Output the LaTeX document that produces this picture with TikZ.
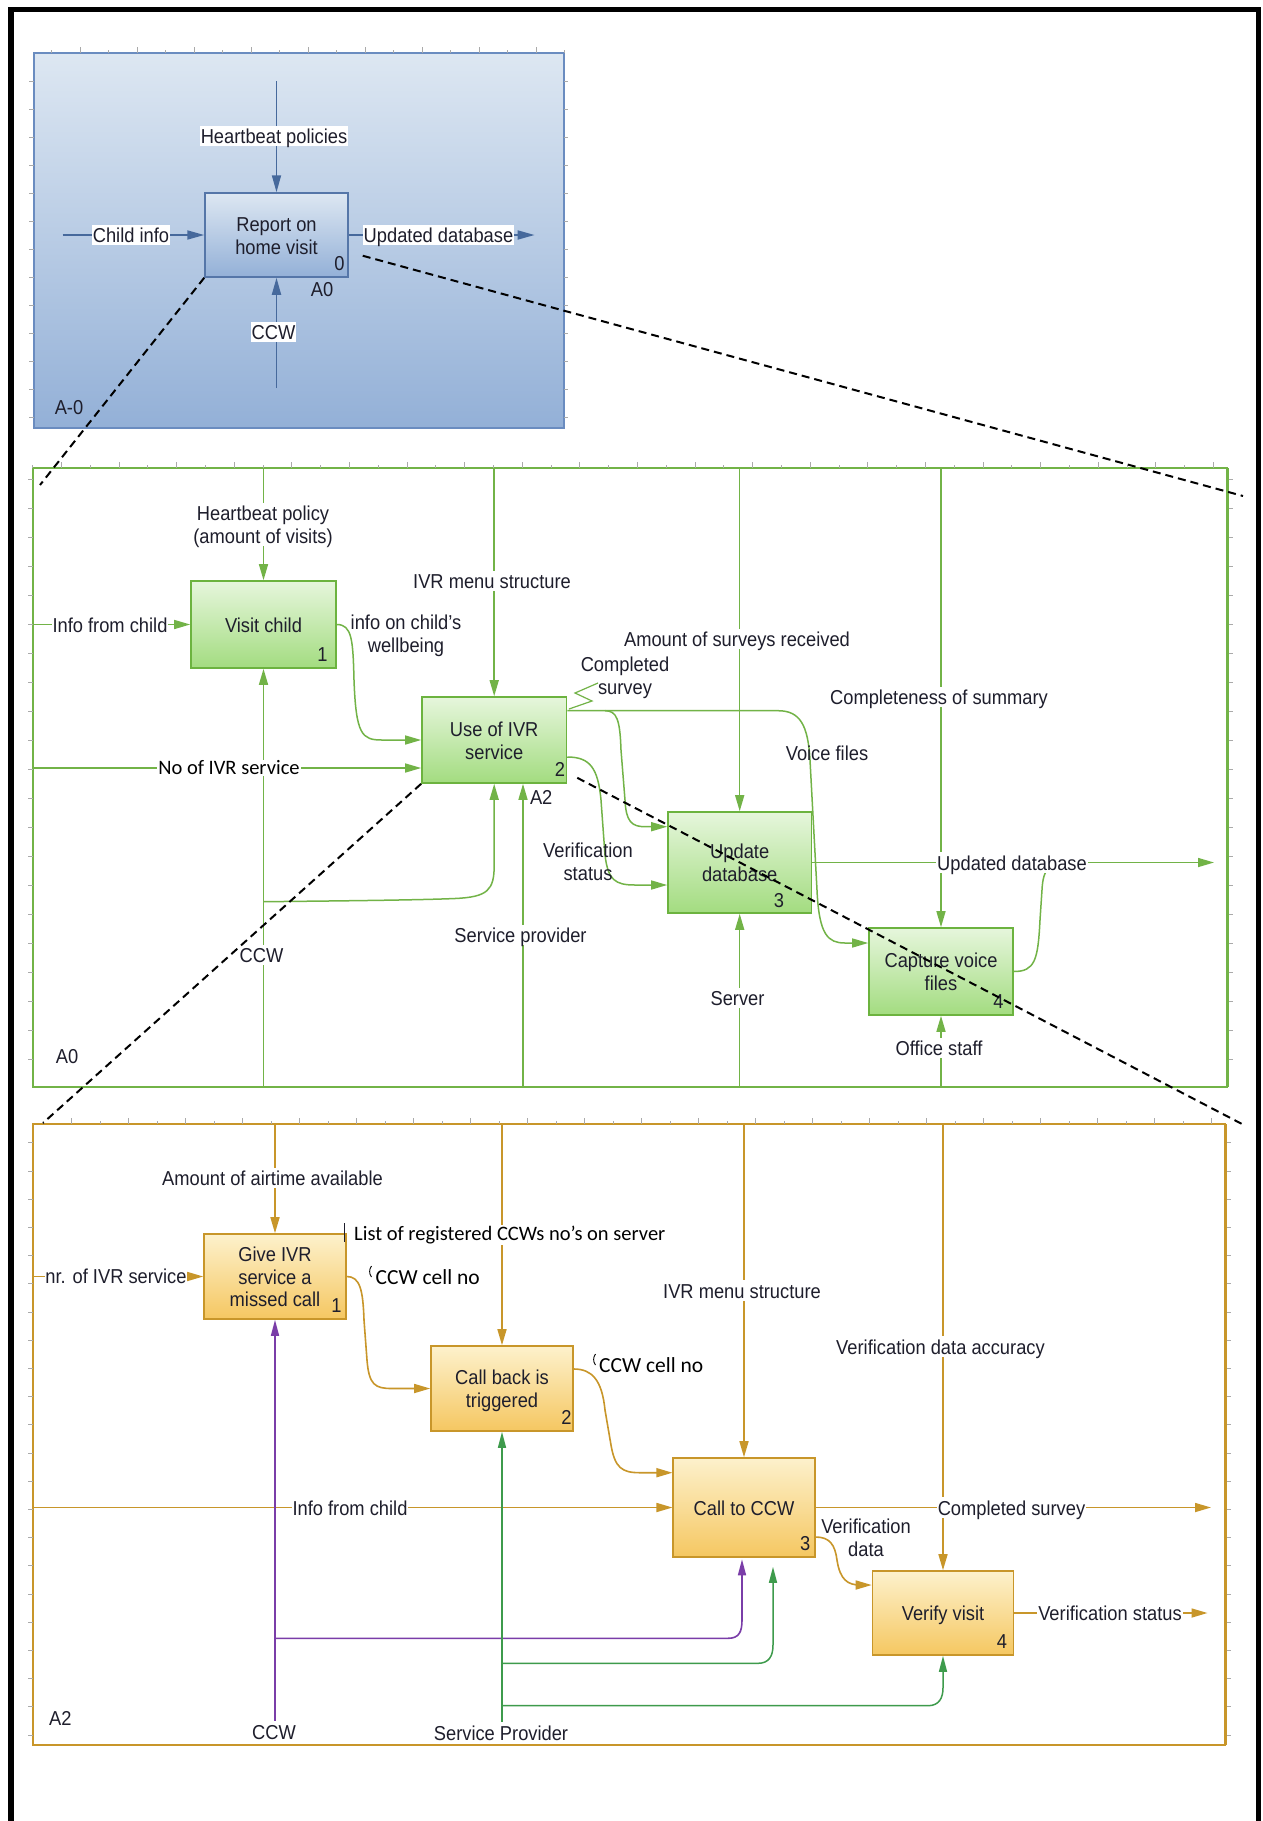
\documentclass[tikz,border=0pt]{standalone}
\usepackage{fontspec}
\usepackage{graphicx}
\setmainfont{Liberation Sans}
\newfontfamily\calfont{Carlito}
\usetikzlibrary{arrows.meta,calc}

\definecolor{txt}{HTML}{1E1E2C}
\definecolor{bluefr}{HTML}{6A8CC0}
\definecolor{bluetop}{HTML}{DDE7F2}
\definecolor{bluebot}{HTML}{93B0D7}
\definecolor{blueln}{HTML}{46699C}
\definecolor{bluebx}{HTML}{5576A8}
\definecolor{grnln}{HTML}{72B347}
\definecolor{grnbd}{HTML}{6CB33F}
\definecolor{grntop}{HTML}{E6F6DC}
\definecolor{grnbot}{HTML}{A3DC80}
\definecolor{orgln}{HTML}{C8962A}
\definecolor{orgtop}{HTML}{FDF1CC}
\definecolor{orgbot}{HTML}{F5C761}
\definecolor{purp}{HTML}{7A3DA8}
\definecolor{sgrn}{HTML}{3E9B4C}
\definecolor{rulergray}{HTML}{AAAAAA}

\newcommand\lblfont{\fontsize{18.3}{20.8}\selectfont}
\newcommand\callfont{\calfont\fontsize{20.5}{24}\selectfont}
% label text: centred lines, slightly tall glyphs, optically centred
\newcommand\tx[1]{\raisebox{0pt}[\height][\dimexpr\depth-6pt\relax]{\scalebox{1}[1.1]{\begin{tabular}{@{}c@{}}#1\end{tabular}}}}
\newcommand\nx[1]{\scalebox{1}[1.1]{#1}}

\begin{document}
\begin{tikzpicture}[x=1pt,y=-1pt,
  lbl/.style={font=\lblfont, text=txt, fill=white, inner sep=0.8pt, inner ysep=2pt},
  plbl/.style={lbl, fill=none},
  clbl/.style={font=\callfont, text=black, fill=white, inner sep=1pt},
  num/.style={font=\lblfont, text=txt, anchor=south east, inner xsep=3pt, inner ysep=7pt},
  bluebox/.style={draw=bluebx, line width=1.5pt, top color=bluetop, bottom color=bluebot,
    font=\lblfont, text=txt, inner sep=0pt},
  greenbox/.style={draw=grnbd, line width=1.6pt, top color=grntop, bottom color=grnbot,
    font=\lblfont, text=txt, inner sep=0pt},
  orangebox/.style={draw=orgln, line width=1.6pt, top color=orgtop, bottom color=orgbot,
    font=\lblfont, text=txt, inner sep=0pt},
  bline/.style={draw=blueln, line width=1.8pt},
  barrow/.style={bline, -{Triangle[length=17pt,width=9pt]}},
  gline/.style={draw=grnln, line width=1.5pt},
  garrow/.style={gline, -{Triangle[length=16pt,width=9pt]}},
  oline/.style={draw=orgln, line width=1.6pt},
  oarrow/.style={oline, -{Triangle[length=16pt,width=9pt]}},
  parrow/.style={draw=purp, line width=1.6pt, -{Triangle[length=16pt,width=8pt]}},
  sarrow/.style={draw=sgrn, line width=1.5pt, -{Triangle[length=16pt,width=8pt]}},
  zoomline/.style={draw=black, line width=2pt, dash pattern=on 8pt off 5pt},
  ruler/.style={draw=rulergray, line width=0.8pt},
]
\useasboundingbox (0,0) rectangle (1262,1821);
\fill[white] (0,0) rectangle (1262,1821);

% page frame
\draw[line width=5.5pt] (11,9.5) rectangle (1258.5,1840);

% ---------------- A-0 context diagram ----------------
\draw[draw=bluefr, line width=1.5pt, top color=bluetop, bottom color=bluebot] (34,53) rectangle (564,428);
\foreach \k in {0,...,18}{
  \ifodd\k \def\tl{6}\else\def\tl{3}\fi
  \draw[ruler] (51.4+28.5*\k,53) -- ++(0,-\tl);
}
\foreach \k in {0,...,12}{
  \draw[ruler] (29,81+28*\k) -- (34,81+28*\k);
  \draw[ruler] (564,81+28*\k) -- (568,81+28*\k);
}

\node[bluebox, minimum width=143pt, minimum height=84pt] (rep) at (276.5,235) {\tx{Report on\\home visit}};

\coordinate (hbT) at (276.5,81);
\coordinate (ciL) at (62.5,235);
\coordinate (udR) at (534.6,235);
\coordinate (ccB) at (276.5,388);
\draw[barrow] (rep.north |- hbT) -- (rep.north);
\draw[barrow] (ciL) -- (rep.west);
\draw[barrow] (rep.east) -- (udR);
\draw[barrow] (ccB) -- (rep.south);

\node[lbl] (lhb) at (274,136) {\tx{Heartbeat policies}};
\node[lbl] (lci) at (131,235) {\tx{Child info}};
\node[lbl] (lud) at (438.5,235) {\tx{Updated database}};
\node[lbl] (lcc) at (273.5,332) {\tx{CCW}};
\node[num, xshift=-1pt] at (rep.south east) {\nx{0}};
\node[plbl] (la0) at (322,289) {\tx{A0}};
\node[plbl] (lam) at (69,407) {\tx{A-0}};

% ---------------- A0 decomposition ----------------
\draw[draw=grnln, line width=1.8pt] (32.6,468.3) rectangle (1227,1086.7);
\draw[draw=grnln, line width=3pt] (1227,468.3) -- (1227,1086.7);
\foreach \k in {0,...,41}{
  \ifodd\k \def\tl{6}\else\def\tl{3}\fi
  \draw[ruler] (32.6+28.8*\k,468.3) -- ++(0,-\tl);
}
\foreach \k in {0,...,20}{
  \draw[ruler] (28,479+29*\k) -- (32.6,479+29*\k);
  \draw[ruler] (1228.5,479+29*\k) -- (1233,479+29*\k);
}

\node[greenbox, minimum width=145pt, minimum height=87pt] (vc) at (263.5,624.5) {\tx{Visit child}};
\node[greenbox, minimum width=144.5pt, minimum height=86pt] (ivr) at (494.2,740) {\tx{Use of IVR\\service}};
\node[greenbox, minimum width=143.4pt, minimum height=101pt] (upd) at (739.7,862.5) {\tx{Update\\database}};
\node[greenbox, minimum width=144pt, minimum height=87pt] (cap) at (941,971.5) {\tx{Capture voice\\files}};

\coordinate (gT) at (0,468.3);
\coordinate (gB) at (0,1086.7);
\coordinate (gL) at (32.6,0);
\coordinate (noIVR) at (32.6,768);
\coordinate (ccwJ) at (263.5,901.7);
\coordinate (spB) at (523,1086.7);
\coordinate (udbR) at (1214,862.5);

\draw[garrow] (vc.north |- gT) -- (vc.north);
\draw[garrow] (gL |- vc.west) -- (vc.west);
\draw[garrow] (vc.east) .. controls (352,624.5) and (353,640) .. (354,680)
  .. controls (356,735) and (362,740) .. (382,740) -- (ivr.west);
\draw[garrow] (ivr.north |- gT) -- (ivr.north);
\draw[garrow] (noIVR) -- (noIVR -| ivr.west);
\draw[garrow] (vc.south |- gB) -- (vc.south);
\draw[garrow] (ccwJ) .. controls (350,900.8) and (420,900) .. (455,898.5)
  .. controls (488,897) and (494.2,890) .. (494.2,865) -- (ivr.south);
\draw[garrow] (spB) -- (spB |- ivr.south);
\draw[garrow] (upd.north |- gT) -- (upd.north);
\draw[garrow] (cap.north |- gT) -- (cap.north);
\draw[garrow] ([yshift=29.3pt]ivr.east) -- (778,710.7) .. controls (800,710.7) and (808,725) .. (810,760)
  -- (817,890) .. controls (819,935) and (828,943) .. (845,943) -- ([yshift=28.5pt]cap.west);
\draw[garrow] (605,710.7) .. controls (617,710.7) and (620,720) .. (621,750)
  -- (625,800) .. controls (626,822) and (632,826.7) .. (645,826.7) -- ([yshift=35.8pt]upd.west);
\draw[garrow] ([yshift=-17pt]ivr.east) .. controls (590,757) and (598,768) .. (601,800)
  -- (605,855) .. controls (608,880) and (615,885) .. (635,885) -- ([yshift=-22.5pt]upd.west);
\draw[garrow] (upd.east) -- (upd.east -| udbR);
\draw[gline] (cap.east) .. controls (1035,971.5) and (1038,960) .. (1040,920)
  -- (1042,890) .. controls (1043,868) and (1050,862.5) .. (1068,862.5);
\draw[garrow] (upd.south |- gB) -- (upd.south);
\draw[garrow] (cap.south |- gB) -- (cap.south);
\draw[gline, line width=1.2pt] (569,709) -- (592,701) -- (575,693) -- (598,683);

\node[num, xshift=-6pt] at (vc.south east) {\nx{1}};
\node[num, xshift=1pt] at (ivr.south east) {\nx{2}};
\node[num, xshift=-25pt, yshift=-1pt] at (upd.south east) {\nx{3}};
\node[num, xshift=-7pt] at (cap.south east) {\nx{4}};

\node[lbl] (lhp) at (263,524.5) {\tx{Heartbeat policy\\(amount of visits)}};
\node[lbl] (lif) at (110,624.5) {\tx{Info from child}};
\node[plbl] (lwb) at (406,633.5) {\tx{info on child's\\wellbeing}};
\node[lbl] (lms) at (492,581) {\tx{IVR menu structure}};
\node[clbl] (lno) at (229,768) {No of IVR service};
\node[lbl] (lcw) at (261.5,955) {\tx{CCW}};
\node[lbl] (lsp) at (520.5,935) {\tx{Service provider}};
\node[plbl, anchor=west] (la2) at (529,797) {\tx{A2}};
\node[lbl] (lam2) at (737,639) {\tx{Amount of surveys received}};
\node[plbl] (lcs) at (625,675) {\tx{Completed\\survey}};
\node[lbl] (lcm) at (939,697) {\tx{Completeness of summary}};
\node[plbl] (lvf) at (827,753.3) {\tx{Voice files}};
\node[plbl] (lvs) at (588,861.5) {\tx{Verification\\status}};
\node[lbl] (lud2) at (1012,862.5) {\tx{Updated database}};
\node[lbl] (lsv) at (737.5,998) {\tx{Server}};
\node[lbl] (los) at (939,1048) {\tx{Office staff}};
\node[plbl] (la0b) at (67,1055.7) {\tx{A0}};

% ---------------- A2 decomposition ----------------
\draw[draw=orgln, line width=1.8pt] (32.6,1124.3) rectangle (1225,1745);
\draw[draw=orgln, line width=3pt] (1225,1124.3) -- (1225,1745);
\foreach \k in {0,...,41}{
  \ifodd\k \def\tl{6}\else\def\tl{3}\fi
  \draw[ruler] (43+28.5*\k,1124.3) -- ++(0,-\tl);
}
\foreach \k in {0,...,21}{
  \draw[ruler] (28,1142.7+28.2*\k) -- (32.6,1142.7+28.2*\k);
  \draw[ruler] (1226.5,1142.7+28.2*\k) -- (1231,1142.7+28.2*\k);
}

\node[orangebox, minimum width=142pt, minimum height=85pt] (giv) at (275,1276.5) {\tx{Give IVR\\service a\\missed call}};
\node[orangebox, minimum width=142pt, minimum height=85pt] (cb) at (502,1388.5) {\tx{Call back is\\triggered}};
\node[orangebox, minimum width=141.5pt, minimum height=99pt] (ctc) at (744,1507.5) {\tx{Call to CCW}};
\node[orangebox, minimum width=141pt, minimum height=84pt] (ver) at (943,1613) {\tx{Verify visit}};

\coordinate (oT) at (0,1124.3);
\coordinate (oL) at (32.6,0);
\coordinate (csR) at (1211,1507.5);
\coordinate (vsR) at (1207.5,1613);
\coordinate (pB) at (275,1723);
\coordinate (pJ) at (275,1638.3);
\coordinate (sB) at (502,1721.7);
\coordinate (sJa) at (502,1663.3);
\coordinate (sJb) at (502,1705.7);

\draw[oarrow] (giv.north |- oT) -- (giv.north);
\draw[oarrow] (oL |- giv.west) -- (giv.west);
\draw[oarrow] (cb.north |- oT) -- (cb.north);
\draw[oarrow] (giv.east) .. controls (360,1276.5) and (363,1290) .. (364,1320)
  -- (367,1360) .. controls (369,1385) and (375,1388.5) .. (392,1388.5) -- (cb.west);
\draw[oarrow] ([yshift=19.5pt]cb.east) .. controls (592,1369) and (602,1380) .. (605,1410)
  -- (611,1445) .. controls (615,1468) and (622,1472.7) .. (640,1472.7) -- ([yshift=34.8pt]ctc.west);
\draw[oarrow] (ctc.north |- oT) -- (ctc.north);
\draw[oarrow] (ver.north |- oT) -- (ver.north);
\draw[oarrow] (oL |- ctc.west) -- (ctc.west);
\draw[oarrow] (ctc.east) -- (csR);
\draw[oarrow] ([yshift=-29.5pt]ctc.east) .. controls (830,1537) and (835,1545) .. (837,1560)
  .. controls (840,1580) and (848,1585) .. (860,1585) -- ([yshift=28pt]ver.west);
\draw[oarrow] (ver.east) -- (vsR);

\draw[parrow] (pB) -- (giv.south);
\draw[parrow] (pJ) -- (728,1638.3) .. controls (739,1638.3) and (742,1632) .. (742,1620)
  -- ([xshift=-2pt,yshift=-1.5pt]ctc.south);
\draw[sarrow] (sB) -- (cb.south);
\draw[sarrow] (sJa) -- (758,1663.3) .. controls (769,1663.3) and (773,1656) .. (773,1645)
  -- ([xshift=29pt,yshift=-9pt]ctc.south);
\draw[sarrow] (sJb) -- (928,1705.7) .. controls (939,1705.7) and (943,1698) .. (943,1688) -- (ver.south);

\node[num, xshift=-2pt] at (giv.south east) {\nx{1}};
\node[num, xshift=1pt] at (cb.south east) {\nx{2}};
\node[num, xshift=-2pt] at (ctc.south east) {\nx{3}};
\node[num, xshift=-4pt] at (ver.south east) {\nx{4}};

\node[lbl] (lair) at (272.5,1178) {\tx{Amount of airtime available}};
\node[clbl, anchor=west] (lreg) at (353,1235) {List of registered CCWs no’s on server};
\draw[draw=txt, line width=1.3pt] (344.5,1223) -- (344.5,1242);
\node[lbl] (lnr) at (116,1275.7) {\tx{nr. of IVR service}};
\node[clbl, font={\calfont\fontsize{21.5}{24}\selectfont}, anchor=west] (lcell) at (374.5,1276.7) {CCW cell no};
\draw[black, line width=0.9pt] (371.5,1266) .. controls (369,1269) and (369,1274) .. (371.5,1277);
\node[clbl, font={\calfont\fontsize{21.5}{24}\selectfont}, anchor=west] (lcellb) at (598,1365) {CCW cell no};
\draw[black, line width=0.9pt] (595.5,1354) .. controls (593,1357) and (593,1362) .. (595.5,1365);
\node[lbl] (lmenu) at (742,1290.7) {\tx{IVR menu structure}};
\node[lbl] (lacc) at (940.5,1346.7) {\tx{Verification data accuracy}};
\node[lbl] (lchild) at (350,1507.5) {\tx{Info from child}};
\node[lbl] (lcsv) at (1011.5,1507.5) {\tx{Completed survey}};
\node[plbl] (lvd) at (866,1537) {\tx{Verification\\data}};
\node[lbl] (lvst) at (1110,1613) {\tx{Verification status}};
\node[lbl] (lccw) at (274,1731.7) {\tx{CCW}};
\node[lbl] (lspr) at (501,1732.7) {\tx{Service Provider}};
\node[plbl] (la2b) at (60.4,1718.3) {\tx{A2}};

% ---------------- zoom guide lines ----------------
\coordinate (zA) at (40,485);
\coordinate (zB) at (1243,496);
\coordinate (zC) at (43,1123);
\coordinate (zD) at (1242,1124);
\draw[zoomline] (rep.south west) -- (zA);
\draw[zoomline] ([xshift=14pt,yshift=22pt]rep.south east) -- (zB);
\draw[zoomline] (ivr.south west) -- (zC);
\draw[zoomline] ([xshift=10pt,yshift=6pt]ivr.south east) -- (zD);
\end{tikzpicture}
\end{document}
